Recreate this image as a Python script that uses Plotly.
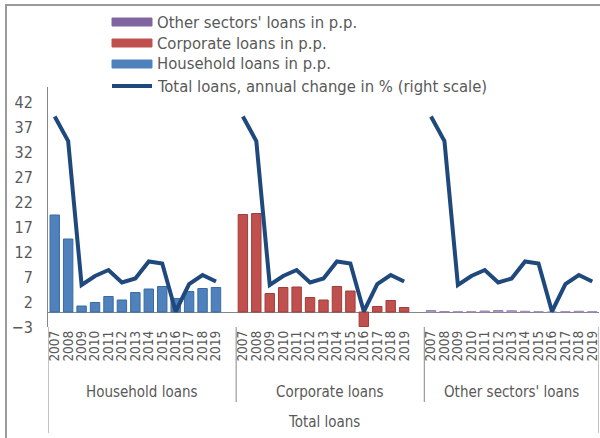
import plotly.graph_objects as go

years = [str(y) for y in range(2007, 2020)]
groups = ["Household loans", "Corporate loans", "Other sectors' loans"]

household = [19.4, 14.6, 1.2, 1.9, 3.1, 2.4, 3.9, 4.6, 5.1, 2.7, 4.1, 4.7, 4.9]
corporate = [19.5, 19.7, 3.7, 4.9, 5.0, 2.9, 2.4, 5.1, 4.2, -2.9, 1.1, 2.3, 0.9]
other = [0.3, 0.1, 0.05, 0.05, 0.2, 0.3, 0.25, 0.15, 0.05, -0.05, 0.05, 0.15, 0.05]
total_change = [39.1, 34.2, 5.4, 7.2, 8.4, 5.9, 6.7, 10.1, 9.7, 0.1, 5.6, 7.4, 6.1]

series_names = ["Other sectors' loans in p.p.", "Corporate loans in p.p.",
                "Household loans in p.p.", "Total loans, annual change in % (right scale)"]

FONT = "DejaVu Sans Condensed, DejaVu Sans, sans-serif"
GREY = "#595959"
AX = "#868686"

# category axis: 13 years per group, with an empty slot after groups 1 and 2
cats = []
ticktext = []
for i, g in enumerate(groups):
    for y in years:
        cats.append(g + "|" + y)
        ticktext.append(y)
    if i < len(groups) - 1:
        cats.append("gap%d" % i)
        ticktext.append("")

def xs(g):
    return [g + "|" + y for y in years]

line_y = []
for i, g in enumerate(groups):
    line_y += total_change
    if i < len(groups) - 1:
        line_y.append(None)

fig = go.Figure()
fig.add_trace(go.Bar(x=xs(groups[0]), y=household, name=series_names[2],
                     marker=dict(color="#4F81BD", line=dict(color="#3B6AA0", width=1))))
fig.add_trace(go.Bar(x=xs(groups[1]), y=corporate, name=series_names[1],
                     marker=dict(color="#C0504D", line=dict(color="#A03C3A", width=1))))
fig.add_trace(go.Bar(x=xs(groups[2]), y=other, name=series_names[0],
                     marker=dict(color="#B3A2C7", line=dict(color="#9A86B8", width=1))))
fig.add_trace(go.Scatter(x=cats, y=line_y, mode="lines", name=series_names[3],
                         yaxis="y2", connectgaps=False,
                         line=dict(color="#1F497D", width=4)))

# px -> paper helpers (plot area 48..599 x 87..327)
def px(v):
    return (v - 48) / 551.0

def py(v):
    return (327 - v) / 240.0

shapes = []
# chart border
shapes.append(dict(type="rect", xref="paper", yref="paper", x0=px(6), x1=px(640),
                   y0=py(480), y1=py(5), line=dict(color="#9A9A9A", width=2)))
# category separators
for xi, bottom in [(-0.5, 433), (13.5, 402), (27.5, 402), (40.5, 433)]:
    shapes.append(dict(type="line", xref="x", yref="paper", x0=xi, x1=xi,
                       y0=0, y1=py(bottom), line=dict(color=AX, width=1)))

# legend drawn by hand (wide swatches)
leg_colors = ["#8064A2", "#C0504D", "#4F81BD"]
rows = [22, 43, 64, 86]
annotations = []
for i, name in enumerate(series_names):
    yc = rows[i]
    if i < 3:
        shapes.append(dict(type="rect", xref="paper", yref="paper",
                           x0=px(112), x1=px(152), y0=py(yc + 4), y1=py(yc - 4),
                           fillcolor=leg_colors[i], line=dict(color=leg_colors[i], width=1)))
    else:
        shapes.append(dict(type="line", xref="paper", yref="paper",
                           x0=px(112), x1=px(152), y0=py(yc), y1=py(yc),
                           line=dict(color="#1F497D", width=4)))
    annotations.append(dict(text=name, xref="paper", yref="paper", x=px(155), y=py(yc),
                            xanchor="left", yanchor="middle", showarrow=False,
                            font=dict(family=FONT, size=16.5, color=GREY)))

for i, g in enumerate(groups):
    annotations.append(dict(text=g, xref="x", yref="paper", x=[6.5, 20.5, 34][i], y=py(392),
                            xanchor="center", yanchor="middle", showarrow=False,
                            font=dict(family=FONT, size=15, color=GREY)))
annotations.append(dict(text="Total loans", xref="x", yref="paper", x=20, y=py(422),
                        xanchor="center", yanchor="middle", showarrow=False,
                        font=dict(family=FONT, size=15, color=GREY)))

fig.update_layout(
    width=600, height=438,
    margin=dict(l=48, r=1, t=87, b=111, autoexpand=False),
    paper_bgcolor="white", plot_bgcolor="white",
    showlegend=False,
    bargap=0.3,
    font=dict(family=FONT, color=GREY),
    xaxis=dict(type="category", categoryorder="array", categoryarray=cats,
               tickmode="array", tickvals=cats, ticktext=ticktext,
               tickangle=-90, tickfont=dict(size=13.5, color=GREY),
               showgrid=False, showline=False, zeroline=False, ticks="",
               automargin=False, range=[-0.5, len(cats) - 0.5]),
    yaxis=dict(range=[-3, 45], tick0=-3, dtick=5, showgrid=False,
               zeroline=True, zerolinecolor=AX, zerolinewidth=1,
               showline=True, linecolor=AX, linewidth=1,
               ticks="", ticklabelstandoff=11, automargin=False,
               tickfont=dict(size=16, color=GREY)),
    yaxis2=dict(range=[-3, 45], overlaying="y", side="right", visible=False,
                automargin=False),
    shapes=shapes,
    annotations=annotations,
)

# the page body has a default 8px margin; drop it so the figure sits at 0,0
fig.write_html("out.html", config={"displayModeBar": False},
               post_script="document.body.style.margin='0';")
